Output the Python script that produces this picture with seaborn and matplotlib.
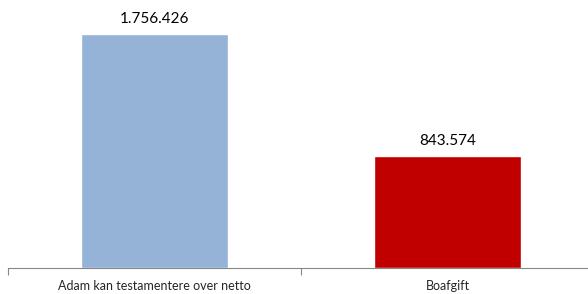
import pandas as pd
import matplotlib.pyplot as plt
import seaborn as sns

categories = ["Adam kan testamentere over netto", "Boafgift"]
values = [1756426, 843574]
colors = ["#95B3D7", "#C00000"]

sns.set_style("white")
plt.rcParams["font.family"] = ["Lato", "DejaVu Sans"]

df = pd.DataFrame({"kategori": categories, "beloeb": values})

fig = plt.figure(figsize=(5.88, 2.94), dpi=100)
ax = fig.add_axes([8 / 588, 26 / 294, 586 / 588, 266 / 294])
sns.barplot(data=df, x="kategori", y="beloeb", hue="kategori", palette=colors,
            width=0.5, legend=False, ax=ax, saturation=1)

ax.set_xlim(-0.5, 1.5)
ax.set_ylim(0, 2000000)
for i, v in enumerate(values):
    label = f"{v:,}".replace(",", ".")
    ax.text(i, v + 60000, label, ha="center", va="bottom", fontsize=11, color="#000000")

for side in ["top", "right", "left"]:
    ax.spines[side].set_visible(False)
ax.spines["bottom"].set_color("#868686")
ax.spines["bottom"].set_linewidth(0.8)
ax.set_yticks([])
ax.set_xlabel("")
ax.set_ylabel("")
ax.set_xticks([0, 1])
ax.set_xticklabels(categories, fontsize=9)
ax.tick_params(axis="x", which="major", bottom=True, length=0, pad=9)
ax.set_xticks([-0.5, 0.5, 1.5], minor=True)
ax.tick_params(axis="x", which="minor", bottom=True, length=5, color="#868686",
               width=0.8, direction="out")

fig.savefig("out.png", dpi=100)
